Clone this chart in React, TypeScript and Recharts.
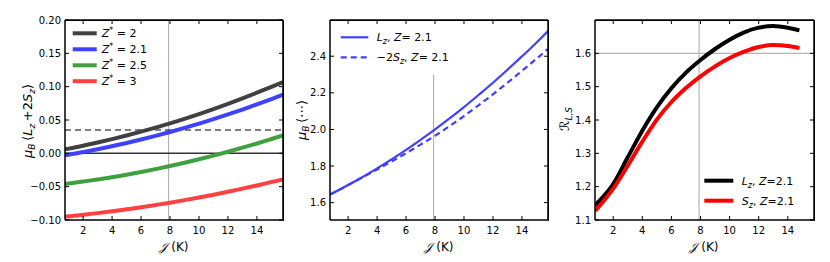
import React from 'react';
import { LineChart, Line, XAxis, YAxis, ReferenceLine, ReferenceArea } from 'recharts';

const FONT = '"DejaVu Sans", sans-serif';

// ---- Panel A: mu_B <Lz + 2Sz> ----
const J_A = [0.75, 1, 2, 3, 4, 5, 6, 7, 8, 9, 10, 11, 12, 13, 14, 15, 15.8];
const Z_2 = [0.006, 0.0071, 0.0114, 0.0162, 0.0213, 0.0267, 0.0325, 0.0386, 0.045, 0.0518, 0.0589, 0.0664, 0.0742, 0.0824, 0.0909, 0.0997, 0.107];
const Z_21 = [-0.003, -0.0021, 0.0019, 0.0061, 0.0107, 0.0155, 0.0207, 0.0262, 0.032, 0.0381, 0.0446, 0.0513, 0.0584, 0.0657, 0.0734, 0.0814, 0.088];
const Z_25 = [-0.046, -0.0453, -0.0424, -0.0393, -0.0358, -0.032, -0.028, -0.0237, -0.019, -0.0141, -0.0089, -0.0034, 0.0024, 0.0085, 0.0148, 0.0215, 0.027];
const Z_3 = [-0.095, -0.0945, -0.0922, -0.0897, -0.087, -0.084, -0.0809, -0.0775, -0.074, -0.0702, -0.0662, -0.062, -0.0576, -0.053, -0.0482, -0.0431, -0.039];
const TICKS_A = [-0.1, -0.05, 0, 0.05, 0.1, 0.15, 0.2];
const DOMAIN_A: [number, number] = [-0.1, 0.2];
const DASH_A = 0.035;

// ---- Panel B: mu_B <...> ----
const J_B = [0.75, 1, 2, 3, 4, 5, 6, 7, 8, 9, 10, 11, 12, 13, 14, 15, 15.8];
const LZ_B = [1.644, 1.654, 1.696, 1.74, 1.787, 1.836, 1.888, 1.943, 2.0, 2.06, 2.122, 2.188, 2.255, 2.326, 2.399, 2.474, 2.537];
const S2_B = [1.644, 1.654, 1.696, 1.738, 1.781, 1.825, 1.87, 1.917, 1.965, 2.018, 2.073, 2.132, 2.192, 2.255, 2.32, 2.386, 2.44];
const TICKS_B = [1.6, 1.8, 2.0, 2.2, 2.4];
const DOMAIN_B: [number, number] = [1.505, 2.598];
const VLINE_B_TOP = 2.3;

// ---- Panel C: R_{L,S} ----
const J_C = [0.75, 1, 2, 3, 4, 5, 6, 7, 8, 9, 10, 11, 12, 13, 14, 14.8];
const RL_C = [1.143, 1.155, 1.208, 1.288, 1.368, 1.438, 1.495, 1.542, 1.58, 1.613, 1.641, 1.663, 1.677, 1.682, 1.677, 1.669];
const RS_C = [1.127, 1.139, 1.194, 1.263, 1.335, 1.401, 1.454, 1.496, 1.531, 1.561, 1.586, 1.605, 1.619, 1.625, 1.622, 1.616];
const TICKS_C = [1.1, 1.2, 1.3, 1.4, 1.5, 1.6];
const DOMAIN_C: [number, number] = [1.1, 1.7];
const HLINE_C = 1.6;

// shared
const TICKS_X = [2, 4, 6, 8, 10, 12, 14];
const DOMAIN_X: [number, number] = [0.75, 15.8];
const J_MARK = 7.9;

const dataA = J_A.map((j, i) => ({ j, z2: Z_2[i], z21: Z_21[i], z25: Z_25[i], z3: Z_3[i] }));
const dataB = J_B.map((j, i) => ({ j, lz: LZ_B[i], s2: S2_B[i] }));
const dataC = J_C.map((j, i) => ({ j, rl: RL_C[i], rs: RS_C[i] }));

const fmtA = (v: number) => v.toFixed(2).replace('-', '\u2212');
const fmt1 = (v: number) => v.toFixed(1);
const blank = () => '';

const CH_W = 290;
const CH_H = 262;
const TOP = 19;
const XH = 42;

const ts = () => ({ fill: '#000', fontSize: 10, fontFamily: FONT });
const ln = () => ({ stroke: '#000', strokeWidth: 1 });

function frameAxes(yDomain: [number, number], yTicks: number[], fmt: (v: number) => string, yW: number) {
  return [
    <XAxis key="xb" xAxisId="b" dataKey="j" type="number" domain={DOMAIN_X} allowDataOverflow ticks={TICKS_X} interval={0}
      tickSize={-4} tickMargin={11} height={XH} axisLine={ln()} tickLine={ln()} tick={ts()} />,
    <XAxis key="xt" xAxisId="t" orientation="top" dataKey="j" type="number" domain={DOMAIN_X} allowDataOverflow ticks={TICKS_X} interval={0}
      tickSize={-4} height={1} tickFormatter={blank} axisLine={ln()} tickLine={ln()} tick={ts()} />,
    <YAxis key="yl" yAxisId="l" type="number" domain={yDomain} allowDataOverflow ticks={yTicks} interval={0}
      tickSize={-4} tickMargin={8} width={yW} tickFormatter={fmt} axisLine={ln()} tickLine={ln()} tick={ts()} />,
    <YAxis key="yr" yAxisId="r" orientation="right" type="number" domain={yDomain} allowDataOverflow ticks={yTicks} interval={0}
      tickSize={-4} width={1} tickFormatter={blank} axisLine={ln()} tickLine={ln()} tick={ts()} />,
  ];
}

function ghostAxes(yDomain: [number, number], yTicks: number[], yW: number) {
  return [
    <XAxis key="xb" xAxisId="b" dataKey="j" type="number" domain={DOMAIN_X} allowDataOverflow ticks={TICKS_X}
      height={XH} axisLine={false} tickLine={false} tick={false} />,
    <XAxis key="xt" xAxisId="t" orientation="top" dataKey="j" type="number" domain={DOMAIN_X} allowDataOverflow ticks={TICKS_X}
      height={1} axisLine={false} tickLine={false} tick={false} />,
    <YAxis key="yl" yAxisId="l" type="number" domain={yDomain} allowDataOverflow ticks={yTicks}
      width={yW} axisLine={false} tickLine={false} tick={false} />,
    <YAxis key="yr" yAxisId="r" orientation="right" type="number" domain={yDomain} allowDataOverflow ticks={yTicks}
      width={1} axisLine={false} tickLine={false} tick={false} />,
  ];
}

const GRAY = '#b4b4b4';

function LegendRow({ x, x2, cy, tx, color, w, dash, children }: any) {
  return (
    <g>
      <line x1={x} x2={x2} y1={cy} y2={cy} stroke={color} strokeWidth={w} strokeDasharray={dash} />
      <text x={tx} y={cy + 4} fontSize={11} fontFamily={FONT} fill="#000">{children}</text>
    </g>
  );
}

function Panel({ left, right, data, yDomain, yTicks, fmt, yW, frameKey, children }: any) {
  const margin = { top: TOP, right, bottom: 0, left: 0 };
  const plotLeft = yW;
  const plotTop = TOP + 1;
  const plotW = CH_W - right - 1 - yW;
  const plotH = CH_H - XH - plotTop;
  return (
    <>
      <div style={{ position: 'absolute', left, top: 0 }}>
        <LineChart width={CH_W} height={CH_H} data={data} margin={margin}>
          {ghostAxes(yDomain, yTicks, yW)}
          {children}
        </LineChart>
      </div>
      <div style={{ position: 'absolute', left, top: 0 }}>
        <LineChart width={CH_W} height={CH_H} data={data} margin={margin}>
          {frameAxes(yDomain, yTicks, fmt, yW)}
          <ReferenceArea xAxisId="b" yAxisId="l" x1={DOMAIN_X[0]} x2={DOMAIN_X[1]} y1={yDomain[0]} y2={yDomain[1]}
            fill="none" fillOpacity={0} stroke="#000" strokeWidth={1} ifOverflow="visible" />
          <Line xAxisId="b" yAxisId="l" dataKey={frameKey} stroke="none" strokeWidth={0} dot={false} isAnimationActive={false} />
        </LineChart>
      </div>
      <div style={{ position: 'absolute', left: left + plotLeft - 0.5, top: plotTop - 0.5, width: plotW, height: plotH,
        borderTop: '1px solid #000', borderRight: '1px solid #000', pointerEvents: 'none' }} />
    </>
  );
}

export default function App() {
  return (
    <div style={{ position: 'absolute', left: 0, top: 0, width: 830, height: 262, background: '#fff' }}>
      <svg width={830} height={262} style={{ position: 'absolute', left: 0, top: 0, pointerEvents: 'none' }}>
        <g fontFamily={FONT} fill="#000">
          <text transform="translate(32,121) rotate(-90)" textAnchor="middle" fontSize={13}>
            <tspan fontStyle="italic">μ</tspan>
            <tspan fontStyle="italic" fontSize={9} dy={3}>B</tspan>
            <tspan dy={-3}>{'\u2009\u27E8'}</tspan>
            <tspan fontStyle="italic">L</tspan>
            <tspan fontStyle="italic" fontSize={9} dy={3}>z</tspan>
            <tspan dy={-3}>{'\u2009+2'}</tspan>
            <tspan fontStyle="italic">S</tspan>
            <tspan fontStyle="italic" fontSize={9} dy={3}>z</tspan>
            <tspan dy={-3}>{'\u27E9'}</tspan>
          </text>
          <text transform="translate(306,120) rotate(-90)" textAnchor="middle" fontSize={13}>
            <tspan fontStyle="italic">μ</tspan>
            <tspan fontStyle="italic" fontSize={9} dy={3}>B</tspan>
            <tspan dy={-3}>{'\u2009\u27E8\u22EF\u27E9'}</tspan>
          </text>
          <text transform="translate(569,119) rotate(-90)" textAnchor="middle" fontSize={13}>
            <tspan>ℛ</tspan>
            <tspan fontStyle="italic" fontSize={9} dy={3}>L,S</tspan>
          </text>
          {[174, 439, 704].map((cx) => (
            <text key={cx} x={cx} y={251} textAnchor="middle" fontSize={12}>
              <tspan fontStyle="italic">𝒥</tspan>
              <tspan> (K)</tspan>
            </text>
          ))}
        </g>
        <LegendRow x={72.7} x2={96.7} cy={33.3} tx={101.7} color="#404040" w={4}>
          <tspan fontStyle="italic">Z</tspan><tspan fontSize={8} dy={-4}>*</tspan><tspan dy={4}> = 2</tspan>
        </LegendRow>
        <LegendRow x={72.7} x2={96.7} cy={49.3} tx={101.7} color="#4040ff" w={4}>
          <tspan fontStyle="italic">Z</tspan><tspan fontSize={8} dy={-4}>*</tspan><tspan dy={4}> = 2.1</tspan>
        </LegendRow>
        <LegendRow x={72.7} x2={96.7} cy={65.3} tx={101.7} color="#40a040" w={4}>
          <tspan fontStyle="italic">Z</tspan><tspan fontSize={8} dy={-4}>*</tspan><tspan dy={4}> = 2.5</tspan>
        </LegendRow>
        <LegendRow x={72.7} x2={96.7} cy={81.2} tx={101.7} color="#ff4040" w={4}>
          <tspan fontStyle="italic">Z</tspan><tspan fontSize={8} dy={-4}>*</tspan><tspan dy={4}> = 3</tspan>
        </LegendRow>
        <LegendRow x={340.7} x2={368.3} cy={37.3} tx={376.7} color="#4040ff" w={2.2}>
          <tspan fontStyle="italic">L</tspan><tspan fontStyle="italic" fontSize={8} dy={3}>z</tspan>
          <tspan dy={-3}>, </tspan><tspan fontStyle="italic">Z</tspan><tspan>= 2.1</tspan>
        </LegendRow>
        <LegendRow x={340.7} x2={368.3} cy={57.3} tx={376.7} color="#4040ff" w={2.2} dash="6 4">
          <tspan>−2</tspan><tspan fontStyle="italic">S</tspan><tspan fontStyle="italic" fontSize={8} dy={3}>z</tspan>
          <tspan dy={-3}>, </tspan><tspan fontStyle="italic">Z</tspan><tspan>= 2.1</tspan>
        </LegendRow>
        <LegendRow x={704.3} x2={733.3} cy={180.7} tx={741.7} color="#000" w={4}>
          <tspan fontStyle="italic">L</tspan><tspan fontStyle="italic" fontSize={8} dy={3}>z</tspan>
          <tspan dy={-3}>, </tspan><tspan fontStyle="italic">Z</tspan><tspan>=2.1</tspan>
        </LegendRow>
        <LegendRow x={704.3} x2={733.3} cy={200.7} tx={741.7} color="#ff0000" w={4}>
          <tspan fontStyle="italic">S</tspan><tspan fontStyle="italic" fontSize={8} dy={3}>z</tspan>
          <tspan dy={-3}>, </tspan><tspan fontStyle="italic">Z</tspan><tspan>=2.1</tspan>
        </LegendRow>
      </svg>
      <Panel left={0} right={6} data={dataA} yDomain={DOMAIN_A} yTicks={TICKS_A} fmt={fmtA} yW={65} frameKey="z2">
        <ReferenceLine xAxisId="b" yAxisId="l" x={J_MARK} stroke={GRAY} strokeWidth={1.2} />
        <ReferenceLine xAxisId="b" yAxisId="l" y={0} stroke="#333" strokeWidth={1.5} />
        <ReferenceLine xAxisId="b" yAxisId="l" y={DASH_A} stroke="#000" strokeWidth={1.2} strokeDasharray="6 4" />
        <Line xAxisId="b" yAxisId="l" type="monotone" dataKey="z2" stroke="#404040" strokeWidth={4} dot={false} isAnimationActive={false} />
        <Line xAxisId="b" yAxisId="l" type="monotone" dataKey="z21" stroke="#4040ff" strokeWidth={4} dot={false} isAnimationActive={false} />
        <Line xAxisId="b" yAxisId="l" type="monotone" dataKey="z25" stroke="#40a040" strokeWidth={4} dot={false} isAnimationActive={false} />
        <Line xAxisId="b" yAxisId="l" type="monotone" dataKey="z3" stroke="#ff4040" strokeWidth={4} dot={false} isAnimationActive={false} />
      </Panel>
      <Panel left={270} right={11} data={dataB} yDomain={DOMAIN_B} yTicks={TICKS_B} fmt={fmt1} yW={60} frameKey="lz">
        <ReferenceLine xAxisId="b" yAxisId="l" segment={[{ x: J_MARK, y: DOMAIN_B[0] }, { x: J_MARK, y: VLINE_B_TOP }]} stroke={GRAY} strokeWidth={1.2} />
        <Line xAxisId="b" yAxisId="l" type="monotone" dataKey="lz" stroke="#4040ff" strokeWidth={2.2} dot={false} isAnimationActive={false} />
        <Line xAxisId="b" yAxisId="l" type="monotone" dataKey="s2" stroke="#4040ff" strokeWidth={2.2} strokeDasharray="6 4" dot={false} isAnimationActive={false} />
      </Panel>
      <Panel left={540} right={15} data={dataC} yDomain={DOMAIN_C} yTicks={TICKS_C} fmt={fmt1} yW={55} frameKey="rl">
        <ReferenceLine xAxisId="b" yAxisId="l" x={J_MARK} stroke={GRAY} strokeWidth={1.2} />
        <ReferenceLine xAxisId="b" yAxisId="l" y={HLINE_C} stroke={GRAY} strokeWidth={1.2} />
        <Line xAxisId="b" yAxisId="l" type="monotone" dataKey="rl" stroke="#000" strokeWidth={4} dot={false} isAnimationActive={false} />
        <Line xAxisId="b" yAxisId="l" type="monotone" dataKey="rs" stroke="#ff0000" strokeWidth={4} dot={false} isAnimationActive={false} />
      </Panel>
    </div>
  );
}
